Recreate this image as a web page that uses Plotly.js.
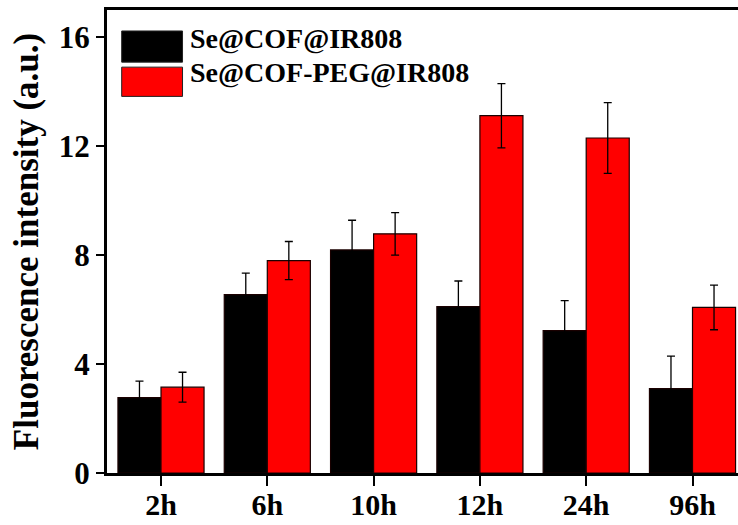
<!DOCTYPE html>
<html>
<head>
<meta charset="utf-8">
<script src="https://cdn.plot.ly/plotly-3.0.1.min.js"></script>
<style>
  html, body { margin: 0; padding: 0; background: #fff; }
  #chart { width: 738px; height: 525px; }
</style>
</head>
<body>
<div id="chart"></div>
<script>
// Time points after injection
const timePoints = ['2h', '6h', '10h', '12h', '24h', '96h'];

// Series names
const seriesNames = ['Se@COF@IR808', 'Se@COF-PEG@IR808'];

// Mean fluorescence intensity (a.u.)
const cofValues = [2.77, 6.55, 8.19, 6.11, 5.23, 3.10];
const pegValues = [3.15, 7.80, 8.78, 13.12, 12.30, 6.08];

// Standard deviations
const cofErrors = [0.60, 0.79, 1.09, 0.94, 1.10, 1.19];
const pegErrors = [0.55, 0.70, 0.78, 1.18, 1.30, 0.82];

// Y-axis ticks
const yTicks = [0, 4, 8, 12, 16];

const seriesColors = ['#000000', '#ff0000'];
const FONT = 'Liberation Serif, Times New Roman, serif';

function barTrace(name, values, errors, color) {
  return {
    type: 'bar',
    name: name,
    x: timePoints,
    y: values,
    marker: { color: color, line: { color: '#1a0000', width: 1.2 } },
    error_y: {
      type: 'data',
      array: errors,
      visible: true,
      color: '#000',
      thickness: 1.3,
      width: 4
    },
    showlegend: false,
    hoverinfo: 'x+y'
  };
}

const traces = [
  barTrace(seriesNames[0], cofValues, cofErrors, seriesColors[0]),
  barTrace(seriesNames[1], pegValues, pegErrors, seriesColors[1])
];

// Hand-built legend: large swatches with bold labels in the top-left corner
const swatchY = [[0.8874, 0.9547], [0.8134, 0.8766]];
const labelY = [0.9374, 0.8641];
const shapes = seriesNames.map((n, i) => ({
  type: 'rect', xref: 'paper', yref: 'paper',
  x0: 0.0233, x1: 0.1197, y0: swatchY[i][0], y1: swatchY[i][1],
  fillcolor: seriesColors[i], line: { color: '#222', width: 1 }
}));
const annotations = seriesNames.map((n, i) => ({
  text: n, xref: 'paper', yref: 'paper',
  x: 0.128, y: labelY[i], xanchor: 'left', yanchor: 'middle',
  showarrow: false,
  font: { family: FONT, size: 28, color: '#000', weight: 'bold' }
}));

const layout = {
  width: 738,
  height: 525,
  margin: { l: 107, r: 0, t: 9.5, b: 52 },
  paper_bgcolor: '#fff',
  plot_bgcolor: '#fff',
  barmode: 'group',
  bargap: 0.19,
  bargroupgap: 0,
  font: { family: FONT, color: '#000' },
  xaxis: {
    type: 'category',
    range: [-0.508, 5.428],
    showline: true,
    mirror: true,
    linecolor: '#000',
    linewidth: 3,
    ticks: 'outside',
    ticklen: 10,
    tickwidth: 2,
    tickcolor: '#000',
    ticklabelstandoff: -7,
    tickfont: { family: FONT, size: 30, color: '#000', weight: 'bold' },
    showgrid: false,
    zeroline: false
  },
  xaxis2: {
    overlaying: 'x',
    side: 'top',
    anchor: 'y',
    range: [-0.508, 5.428],
    tick0: 0.1035,
    dtick: 0.6,
    ticks: 'outside',
    ticklen: 3,
    tickwidth: 1,
    tickcolor: '#666',
    showticklabels: false,
    showline: false,
    showgrid: false,
    zeroline: false
  },
  yaxis: {
    range: [0, 17],
    tickvals: yTicks,
    ticktext: yTicks.map(String),
    showline: true,
    linecolor: '#000',
    linewidth: 3,
    ticks: 'outside',
    ticklen: 8,
    tickwidth: 2.5,
    tickcolor: '#000',
    tickfont: { family: FONT, size: 31, color: '#000', weight: 'bold' },
    showgrid: false,
    zeroline: false,
    title: {
      text: 'Fluorescence intensity (a.u.)',
      font: { family: FONT, size: 35, color: '#000', weight: 'bold' },
      standoff: 10
    }
  },
  shapes: shapes,
  annotations: annotations
};

Plotly.newPlot('chart', traces, layout, { displayModeBar: false, staticPlot: true });
</script>
</body>
</html>
